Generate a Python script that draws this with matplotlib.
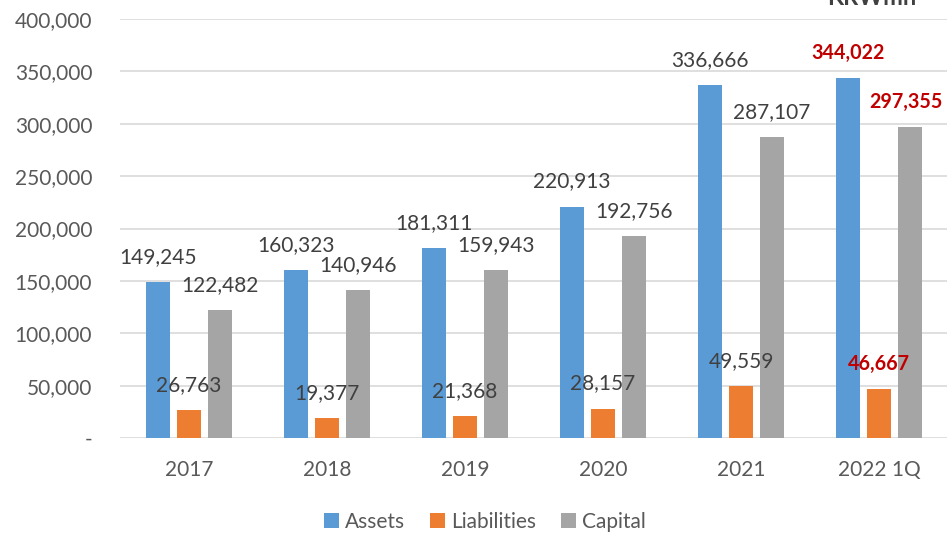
import matplotlib.pyplot as plt
import numpy as np

# Daten
PERIODS = ["2017", "2018", "2019", "2020", "2021", "2022 1Q"]
ASSETS = [149245, 160323, 181311, 220913, 336666, 344022]
LIABILITIES = [26763, 19377, 21368, 28157, 49559, 46667]
CAPITAL = [122482, 140946, 159943, 192756, 287107, 297355]
Y_TICKS = [0, 50000, 100000, 150000, 200000, 250000, 300000, 350000, 400000]

# Stil
BLUE = '#5B9BD5'
ORANGE = '#ED7D31'
GREY = '#A5A5A5'
RED = '#C00000'
TEXT = '#404040'
TICK = '#595959'
FONT = 'Lato'

plt.rcParams['font.family'] = [FONT, 'DejaVu Sans']

fig = plt.figure(figsize=(9.47, 5.33), dpi=100)
ax = fig.add_axes([120 / 947, 1 - 438 / 533, 828 / 947, 419 / 533])

x = np.arange(len(PERIODS))
width = 0.174
step = 0.225
series = [("Assets", ASSETS, BLUE, -step),
          ("Liabilities", LIABILITIES, ORANGE, 0),
          ("Capital", CAPITAL, GREY, step)]

for name, values, color, off in series:
    ax.bar(x + off, values, width, color=color, label=name, zorder=3)
    for i, v in enumerate(values):
        last = i == len(values) - 1
        ax.annotate(f"{v:,}", (x[i] + off, v), xytext=(-3 if last and off > 0 else 0, 18),
                    textcoords='offset points', ha='center', va='center',
                    fontsize=14.2 if last else 15,
                    color=RED if last else TEXT,
                    fontweight='bold' if last else 'normal', zorder=4)

ax.set_xlim(-0.5, len(PERIODS) - 0.5)
ax.set_ylim(0, 400000)
ax.set_yticks(Y_TICKS)
ax.set_yticklabels(["-" if t == 0 else f"{t:,}" for t in Y_TICKS])
ax.set_xticks(x)
ax.set_xticklabels(PERIODS)
ax.tick_params(axis='y', length=0, pad=20, labelsize=15, labelcolor=TICK)
ax.tick_params(axis='x', length=0, pad=16, labelsize=15, labelcolor=TICK)
ax.grid(axis='y', color='#D9D9D9', linewidth=1.2, zorder=0)
for s in ax.spines.values():
    s.set_visible(False)

fig.text(872 / 947, 1 - 5 / 533, "KRWmn", ha='center', va='baseline',
         fontsize=17, fontweight='bold', color=TEXT)

fig.legend(loc='center', bbox_to_anchor=(485 / 947, 1 - 522 / 533), ncol=3,
           frameon=False, fontsize=15, handlelength=0.7, handleheight=0.7,
           handletextpad=0.3, columnspacing=1.2, labelcolor=TICK)

fig.savefig("out.png", dpi=100)
